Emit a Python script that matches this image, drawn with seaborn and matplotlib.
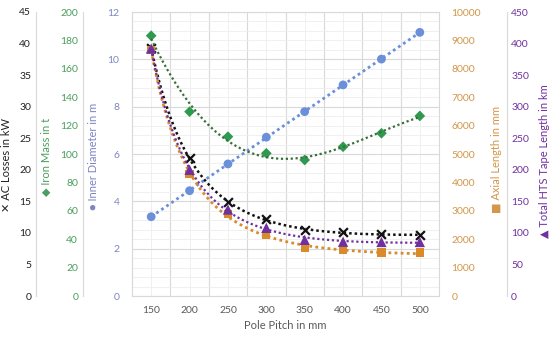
import numpy as np
import matplotlib
matplotlib.use('Agg')
import matplotlib.pyplot as plt
import seaborn as sns

sns.set_style('white')
plt.rcParams['font.family'] = ['Lato', 'DejaVu Sans']

# data
pole_pitch = [150, 200, 250, 300, 350, 400, 450, 500]
ac_losses = [39.3, 21.8, 14.9, 12.15, 10.46, 10.1, 9.77, 9.66]           # kW
iron_mass = [183.3, 129.8, 112.2, 100.5, 95.8, 105.1, 114.6, 126.8]     # t
inner_diam = [3.35, 4.45, 5.58, 6.71, 7.79, 8.92, 10.01, 11.14]         # m
axial_len = [8662, 4296, 2887, 2148, 1679, 1620, 1526, 1526]            # mm
hts_len = [392, 200, 137, 108, 89, 86, 85.6, 85.6]                      # km

c_black = '#111111'
c_green = '#2f9a4f'
c_green_txt = '#4a9e5c'
c_blue = '#6b8fd8'
c_blue_txt = '#7d84c4'
c_orange = '#d98b2c'
c_orange_txt = '#d39649'
c_purple = '#7030a0'
c_grid = '#d9d9d9'
c_grid_minor = '#eeeeee'

x = np.array(pole_pitch, dtype=float)
xs = np.linspace(150, 500, 200)


def trend_poly(y, deg):
    p = np.polyfit(x, y, deg)
    return np.polyval(p, xs)


def trend_inv(y, deg):
    p = np.polyfit(1.0 / x, y, deg)
    return np.polyval(p, 1.0 / xs)


fig = plt.figure(figsize=(5.5, 3.37), dpi=100)
ax = fig.add_axes([132 / 550, 1 - 296 / 337, 307 / 550, 284 / 337])

# host axis: inner diameter, carries the grid
ax.set_xlim(125, 525)
ax.set_ylim(0, 12)
ax.set_yticks(np.arange(0, 13, 2))
ax.set_yticks(np.arange(0, 12.01, 0.4), minor=True)
ax.set_xticks(pole_pitch)
ax.set_xticks(np.arange(175, 500, 50), minor=True)
ax.grid(False)
ax.yaxis.grid(True, which='major', color=c_grid, lw=0.8)
ax.yaxis.grid(True, which='minor', color=c_grid_minor, lw=0.6)
ax.xaxis.grid(True, which='minor', color=c_grid, lw=0.8)
ax.xaxis.grid(True, which='major', color=c_grid_minor, lw=0.6)
ax.set_axisbelow(True)
for s in ax.spines.values():
    s.set_color(c_grid)
    s.set_linewidth(0.8)
ax.tick_params(axis='both', which='both', length=0)
ax.tick_params(axis='x', colors='#595959', labelsize=7.5, pad=7)
ax.tick_params(axis='y', colors=c_blue_txt, labelsize=7.5, pad=9)
ax.set_xlabel('Pole Pitch in mm', color='#595959', fontsize=8, labelpad=4)
ax.set_ylabel('\u25CF Inner Diameter in m', color=c_blue_txt, fontsize=8)
ax.yaxis.set_label_coords((99 - 132) / 307, 0.49)


def left_axis(pos, ylim, ticks, color, label, labx, laby):
    a = ax.twinx()
    a.set_ylim(*ylim)
    a.set_yticks(ticks)
    a.yaxis.set_ticks_position('left')
    a.yaxis.set_label_position('left')
    for n, s in a.spines.items():
        s.set_visible(n == 'left')
    a.spines['left'].set_position(('axes', pos))
    a.spines['left'].set_color(c_grid)
    a.spines['left'].set_linewidth(0.8)
    a.tick_params(axis='y', length=0, colors=color, labelsize=7.5, pad=3.5)
    a.set_ylabel(label, color=color, fontsize=8)
    a.yaxis.set_label_coords((labx - 132) / 307, laby)
    return a


def right_axis(pos, ylim, ticks, color, label, labx, laby, spine_vis, pad):
    a = ax.twinx()
    a.set_ylim(*ylim)
    a.set_yticks(ticks)
    for n, s in a.spines.items():
        s.set_visible(n == 'right' and spine_vis)
    a.spines['right'].set_position(('axes', pos))
    a.spines['right'].set_color(c_grid)
    a.spines['right'].set_linewidth(0.8)
    a.tick_params(axis='y', length=0, colors=color, labelsize=7.5, pad=pad)
    a.set_ylabel(label, color=color, fontsize=8)
    a.yaxis.set_label_coords((labx - 132) / 307, laby)
    return a


ax_ac = left_axis((36 - 132) / 307, (0, 45), np.arange(0, 46, 5), '#222222',
                  '\u2715 AC Losses in kW', 12, 0.46)
ax_iron = left_axis((83 - 132) / 307, (0, 200), np.arange(0, 201, 20), c_green_txt,
                    '\u25C6 Iron Mass in t', 52, 0.49)
ax_axial = right_axis(1.0, (0, 10000), np.arange(0, 10001, 1000), c_orange_txt,
                      '\u25A0 Axial Length in mm', 491, 0.48, False, 9)
ax_hts = right_axis((507 - 132) / 307, (0, 450), np.arange(0, 451, 50), c_purple,
                    '\u25B2 Total HTS Tape Length in km', 539, 0.475, True, 3)

for a in (ax_ac, ax_iron, ax_axial, ax_hts):
    a.set_xlim(125, 525)

dot = (0, (1, 1.2))

# inner diameter: linear trend
ax.plot(xs, trend_poly(inner_diam, 1), color=c_blue, lw=2, ls=dot, zorder=2)
sns.scatterplot(x=pole_pitch, y=inner_diam, ax=ax, marker='o', s=40,
                color=c_blue, edgecolor='none', zorder=3)

# axial length
ax_axial.plot(xs, trend_inv(axial_len, 3), color=c_orange, lw=2, ls=dot)
sns.scatterplot(x=pole_pitch, y=axial_len, ax=ax_axial, marker='s', s=36,
                color=c_orange, edgecolor='none')

# HTS tape length
ax_hts.plot(xs, trend_inv(hts_len, 3), color=c_purple, lw=1.6, ls=dot)
sns.scatterplot(x=pole_pitch, y=hts_len, ax=ax_hts, marker='^', s=55,
                color=c_purple, edgecolor='none')

# AC losses
ax_ac.plot(xs, trend_inv(ac_losses, 3), color=c_black, lw=1.8, ls=dot)
sns.scatterplot(x=pole_pitch, y=ac_losses, ax=ax_ac, marker='x', s=40,
                color=c_black, linewidth=1.6)

# iron mass
ax_iron.plot(xs, trend_poly(iron_mass, 3), color='#3a6e3a', lw=1.6, ls=dot)
sns.scatterplot(x=pole_pitch, y=iron_mass, ax=ax_iron, marker='D', s=30,
                color=c_green, edgecolor='none')

fig.savefig('out.png', dpi=100)
